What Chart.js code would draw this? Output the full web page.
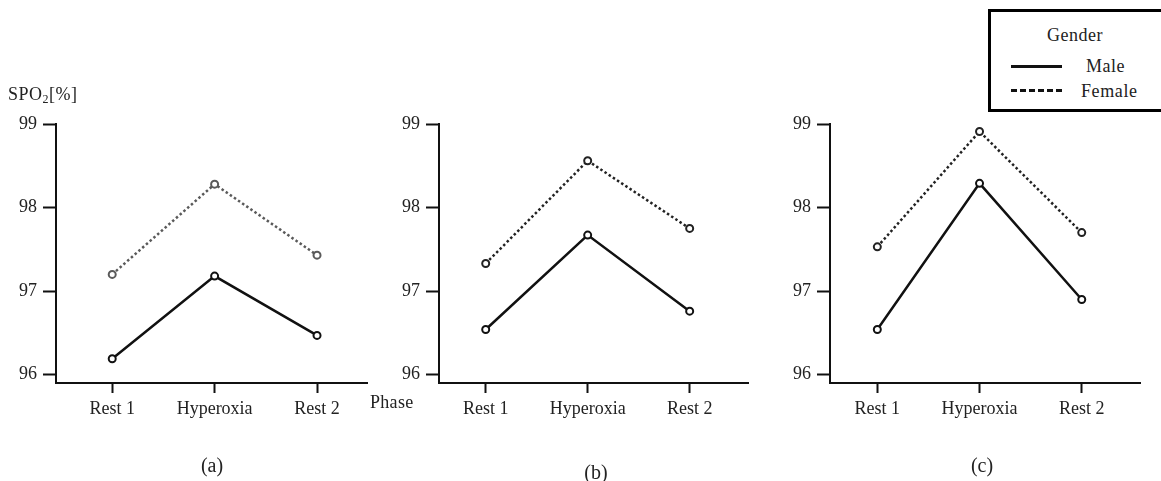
<!DOCTYPE html>
<html>
<head>
<meta charset="utf-8">
<script src="https://cdn.jsdelivr.net/npm/chart.js@4"></script>
<style>
  html, body { margin:0; padding:0; background:#fff; overflow:hidden; }
  body { width:1161px; height:481px; position:relative; font-family:"Liberation Serif", "DejaVu Serif", serif; color:#222; }
  canvas { position:absolute; top:0; }
  .txt { position:absolute; white-space:nowrap; line-height:1; }
  #legend { position:absolute; left:988px; top:9px; width:190px; height:97px; border:3px solid #000; background:#fff; }
  .lg-line { position:absolute; width:51px; height:0; }
</style>
</head>
<body>
<canvas id="cA" width="400" height="481" style="left:0px"></canvas>
<canvas id="cB" width="400" height="481" style="left:380px"></canvas>
<canvas id="cC" width="391" height="481" style="left:770px"></canvas>

<div class="txt" style="left:8px; top:85px; font-size:18px; letter-spacing:0.5px;">SPO<sub style="font-size:12px; vertical-align:-3px;">2</sub>[%]</div>
<div class="txt" style="left:370px; top:393px; font-size:18px; letter-spacing:0.3px;">Phase</div>
<div class="txt" style="left:212px; top:465px; font-size:20px; transform:translate(-50%,-50%);">(a)</div>
<div class="txt" style="left:596px; top:472px; font-size:20px; transform:translate(-50%,-50%);">(b)</div>
<div class="txt" style="left:982px; top:465px; font-size:20px; transform:translate(-50%,-50%);">(c)</div>

<div id="legend">
  <div class="txt" style="left:84px; top:23px; font-size:18px; letter-spacing:0.5px; transform:translate(-50%,-50%);">Gender</div>
  <div class="lg-line" style="left:20px; top:53px; border-top:3px solid #111;"></div>
  <div class="txt" style="left:95px; top:45px; font-size:18px; letter-spacing:0.5px;">Male</div>
  <div class="lg-line" style="left:20px; top:77px; border-top:3px dashed #111;"></div>
  <div class="txt" style="left:90px; top:70px; font-size:18px; letter-spacing:0.6px;">Female</div>
</div>

<script>
// ---- data ----
const phases = ["Rest 1", "Hyperoxia", "Rest 2"];
const yTicks = [96, 97, 98, 99];

const maleA   = [96.19, 97.18, 96.47];
const femaleA = [97.20, 98.28, 97.43];

const maleB   = [96.54, 97.67, 96.76];
const femaleB = [97.33, 98.56, 97.75];

const maleC   = [96.54, 98.29, 96.90];
const femaleC = [97.53, 98.91, 97.70];

// ---- drawing ----
const FONT = { family: "'Liberation Serif', 'DejaVu Serif', serif", size: 18 };

function pts(arr) { return arr.map((v, i) => ({ x: i, y: v })); }

function makeChart(id, male, female, cfg) {
  const ctx = document.getElementById(id);
  return new Chart(ctx, {
    type: 'line',
    data: {
      datasets: [
        {
          label: 'Male', data: pts(male),
          borderColor: '#111', borderWidth: 2.5,
          pointRadius: 3.5, pointBorderWidth: 2, pointBorderColor: '#111', pointBackgroundColor: '#fff',
          tension: 0
        },
        {
          label: 'Female', data: pts(female),
          borderColor: cfg.femaleColor, borderWidth: 2.5, borderDash: [2.5, 2.5],
          pointRadius: 3.5, pointBorderWidth: 2, pointBorderColor: cfg.femaleColor, pointBackgroundColor: '#fff',
          tension: 0
        }
      ]
    },
    options: {
      responsive: false, animation: false, devicePixelRatio: 1,
      events: [],
      layout: { padding: { left: 0, right: cfg.padRight, top: 124, bottom: 0 } },
      plugins: { legend: { display: false }, tooltip: { enabled: false }, title: { display: false } },
      scales: {
        x: {
          type: 'linear', min: cfg.xmin, max: cfg.xmax,
          afterBuildTicks: s => { s.ticks = phases.map((p, i) => ({ value: i })); },
          afterFit: s => { s.height = 481 - 383; },
          ticks: { callback: v => phases[v] ?? '', color: '#222', font: FONT, padding: 5, maxRotation: 0, autoSkip: false },
          grid: { display: true, drawOnChartArea: false, drawTicks: true, tickLength: 10, tickWidth: 2, tickColor: '#111' },
          border: { display: true, color: '#111', width: 2 }
        },
        y: {
          type: 'linear', min: 95.9, max: 99,
          afterBuildTicks: s => { s.ticks = yTicks.map(v => ({ value: v })); },
          afterFit: s => { s.width = cfg.yWidth; },
          ticks: { color: '#222', font: FONT, padding: 6 },
          grid: { display: true, drawOnChartArea: false, drawTicks: true, tickLength: 13, tickWidth: 2, tickColor: '#111' },
          border: { display: true, color: '#111', width: 2 }
        }
      }
    }
  });
}

makeChart('cA', maleA, femaleA, { femaleColor: '#5a5a5a', xmin: -0.549, xmax: 2.488, yWidth: 56, padRight: 33 });
makeChart('cB', maleB, femaleB, { femaleColor: '#222', xmin: -0.458, xmax: 2.572, yWidth: 59, padRight: 32 });
makeChart('cC', maleC, femaleC, { femaleColor: '#222', xmin: -0.463, xmax: 2.570, yWidth: 60, padRight: 21 });
</script>
</body>
</html>
